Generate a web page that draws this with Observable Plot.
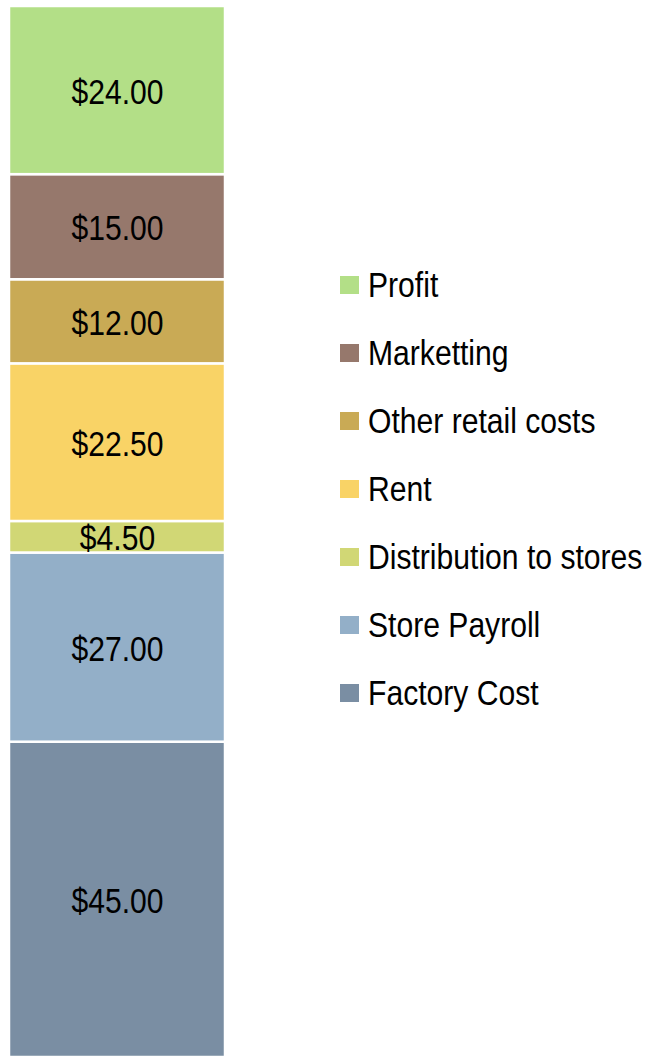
<!DOCTYPE html>
<html><head><meta charset="utf-8">
<script src="https://cdn.jsdelivr.net/npm/d3@7"></script>
<script src="https://cdn.jsdelivr.net/npm/@observablehq/plot@0.6"></script>
<style>
html,body{margin:0;padding:0;background:#fff;}
#wrap{position:relative;width:649px;height:1056px;overflow:hidden;}
#chart{position:absolute;left:0;top:0;}
#legend{position:absolute;left:340px;top:0;font-family:"Liberation Sans",Arial,sans-serif;font-size:35px;line-height:40px;color:#000;}
.item{position:absolute;left:0;white-space:nowrap;height:40px;}
.sw{position:absolute;left:0;top:11px;width:19px;height:18px;}
.tx{position:absolute;left:28px;top:0;transform:scaleX(0.86);transform-origin:0 50%;}
</style>
</head><body>
<div id="wrap"><div id="chart"></div><div id="legend"></div></div>
<script>
// bottom to top
const categories = ["Factory Cost","Store Payroll","Distribution to stores","Rent","Other retail costs","Marketting","Profit"];
const values = [45, 27, 4.5, 22.5, 12, 15, 24];
const colors = ["#7a8ea3","#93afc8","#d1d775","#f9d366","#c9aa55","#96786c","#b3df87"];
const labels = ["$45.00","$27.00","$4.50","$22.50","$12.00","$15.00","$24.00"];

const data = categories.map((c,i)=>({group:"A", cat:c, value:values[i], label:labels[i]}));

const chart = Plot.plot({
  width: 240, height: 1057,
  marginTop: 6, marginBottom: 0, marginLeft: 9, marginRight: 15,
  x: {domain:["A"], padding:0, axis:null},
  y: {domain:[0,150], axis:null},
  color: {domain: categories, range: colors},
  marks: [
    Plot.barY(data, Plot.stackY({x:"group", y:"value", fill:"cat", order:null, stroke:"white", strokeWidth:2.5})),
    Plot.text(data, Plot.stackY({x:"group", y:"value", order:null, text:"label", fill:"black", fontSize:35, dy:2,
      fontFamily:'"Liberation Sans",Arial,sans-serif'}))
  ]
});
document.getElementById("chart").appendChild(chart);
// emulate a narrow typeface: squeeze each label horizontally about its centre
chart.querySelectorAll("text").forEach(t => {
  const b = t.getBBox();
  const cx = b.x + b.width / 2;
  const prev = t.getAttribute("transform") || "";
  t.setAttribute("transform", `${prev} translate(${cx},0) scale(0.86,1) translate(${-cx},0)`);
});

const legend = document.getElementById("legend");
const legendOrder = categories.slice().reverse();
legendOrder.forEach((c,i)=>{
  const d = document.createElement("div");
  d.className = "item";
  d.style.top = (285 + i*68 - 20) + "px";
  const sw = document.createElement("span");
  sw.className = "sw";
  sw.style.background = colors[categories.indexOf(c)];
  const t = document.createElement("span");
  t.className = "tx";
  t.textContent = c;
  d.appendChild(sw); d.appendChild(t);
  legend.appendChild(d);
});
</script>
</body></html>
